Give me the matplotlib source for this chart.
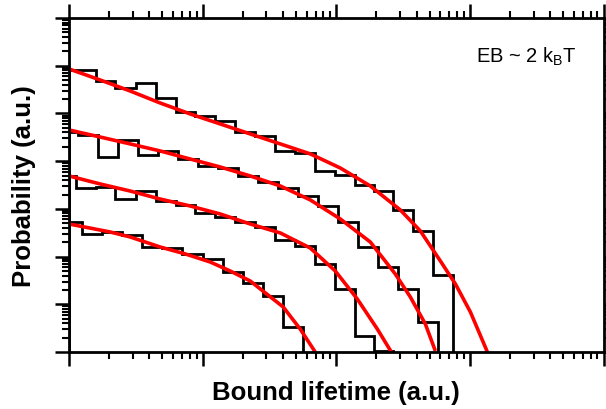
import numpy as np
import matplotlib.pyplot as plt
from matplotlib.ticker import LogLocator, NullFormatter

plt.rcParams['font.family'] = ['Liberation Sans', 'DejaVu Sans']

# binned lifetime distributions (bin edges in a.u., probability per bin)
edges_1 = [1.0, 1.59, 2.21, 3.18, 4.48, 6.33, 8.79, 12.4, 17.5, 24.7, 34.9,
           49.3, 69.6, 98.3, 138.8, 192.6, 267.3, 377.5, 532.9, 752.2]
prob_1 = [0.0817, 0.048, 0.0343, 0.0435, 0.0211, 0.0107, 0.00887, 0.00697,
          0.00409, 0.00337, 0.00164, 0.00149, 6.24e-4, 5.14e-4, 3.17e-4,
          2.37e-4, 9.48e-5, 3.44e-5, 4.11e-6]

edges_2 = [1.0, 1.17, 1.65, 2.33, 3.29, 4.64, 6.55, 9.25, 13.07, 18.45, 26.05,
           36.8, 51.9, 73.3, 103.5, 146.1, 206.4, 291.3, 411.4, 580.7]
prob_2 = [4.09e-3, 3.54e-3, 1.22e-3, 2.78e-3, 1.35e-3, 1.64e-3, 1.11e-3,
          7.92e-4, 7.19e-4, 4.90e-4, 3.66e-4, 2.74e-4, 1.86e-4, 1.15e-4,
          5.31e-5, 1.59e-5, 6.05e-6, 2.09e-6, 4.26e-7]

edges_3 = [1.0, 1.13, 1.59, 2.21, 3.18, 4.48, 6.33, 8.79, 12.4, 17.5, 24.7,
           34.9, 49.3, 69.6, 98.3, 138.8, 192.6, 267.3]
prob_3 = [4.90e-4, 2.74e-4, 2.88e-4, 1.61e-4, 2.37e-4, 1.47e-4, 1.21e-4,
          8.20e-5, 6.76e-5, 5.31e-5, 4.18e-5, 2.23e-5, 1.67e-5, 7.00e-6,
          2.09e-6, 2.16e-7, 1.05e-7]

edges_4 = [1.0, 1.245, 1.77, 2.49, 3.52, 4.97, 7.02, 10.1, 14.24, 20.1, 28.4,
           40.1, 56.6]
prob_4 = [5.31e-5, 2.98e-5, 3.28e-5, 2.84e-5, 1.59e-5, 1.51e-5, 1.14e-5,
          8.91e-6, 4.75e-6, 2.80e-6, 1.49e-6, 3.34e-7]

# fitted curves (red)
fit_x_1 = [1, 1.707, 2.864, 4.80, 8.06, 13.53, 22.7, 38.1, 63.9, 107.2, 179.8,
           301.6, 425.9, 601.2, 778.9, 1008.6, 1352]
fit_y_1 = [0.0857, 0.0504, 0.0296, 0.0166, 0.00977, 0.00603, 0.00372, 0.00230,
           0.00142, 7.19e-4, 3.02e-4, 9.48e-5, 3.44e-5, 8.09e-6, 2.67e-6,
           6.90e-7, 1e-7]

fit_x_2 = [1, 1.707, 2.864, 4.80, 8.06, 13.53, 22.7, 38.1, 63.9, 107.2, 179.8,
           276.7, 358.4, 464.2, 551.5]
fit_y_2 = [4.51e-3, 3.21e-3, 2.30e-3, 1.64e-3, 1.11e-3, 7.55e-4, 4.90e-4,
           3.02e-4, 1.54e-4, 6.14e-5, 2.02e-5, 4.31e-6, 1.42e-6, 3.86e-7, 1.05e-7]

fit_x_3 = [1, 1.707, 2.864, 4.80, 8.06, 13.53, 22.7, 38.1, 63.9, 98.3, 143.7,
           202.9, 258.2]
fit_y_3 = [4.90e-4, 3.33e-4, 2.37e-4, 1.61e-4, 1.15e-4, 7.82e-5, 4.82e-5,
           3.13e-5, 1.51e-5, 4.99e-6, 1.29e-6, 3.03e-7, 1e-7]

fit_x_4 = [1, 2.03, 2.864, 4.80, 7.39, 11.38, 16.07, 22.7, 40.1, 53.7, 69.6]
fit_y_4 = [4.82e-5, 3.28e-5, 2.58e-5, 1.59e-5, 1.14e-5, 7.71e-6, 4.99e-6,
           3.08e-6, 8.77e-7, 3.03e-7, 1e-7]

fig = plt.figure(figsize=(6.06, 4.10), dpi=100)
ax = fig.add_axes([0.1139, 0.139, 0.882, 0.8146])
ax.set_xscale('log')
ax.set_yscale('log')
ax.set_xlim(1, 1e4)
ax.set_ylim(1e-7, 1)

for e, p in [(edges_1, prob_1), (edges_2, prob_2), (edges_3, prob_3), (edges_4, prob_4)]:
    ax.stairs(p, e, baseline=1e-7, color='black', lw=2.0)

for fx, fy in [(fit_x_1, fit_y_1), (fit_x_2, fit_y_2), (fit_x_3, fit_y_3), (fit_x_4, fit_y_4)]:
    ax.plot(fx, fy, color='#ff0000', lw=2.6, solid_capstyle='butt')

for axis in [ax.xaxis, ax.yaxis]:
    axis.set_major_locator(LogLocator(base=10, numticks=20))
    axis.set_minor_locator(LogLocator(base=10, subs=np.arange(2, 10), numticks=100))
    axis.set_major_formatter(NullFormatter())
    axis.set_minor_formatter(NullFormatter())

ax.tick_params(which='both', direction='out', top=True, right=True)
ax.tick_params(which='major', length=10, width=1.8)
ax.tick_params(which='minor', length=5, width=1.5)
for s in ax.spines.values():
    s.set_linewidth(2.0)

ax.set_xlabel('Bound lifetime (a.u.)', fontsize=18.5, fontweight='bold', labelpad=7)
ax.set_ylabel('Probability (a.u.)', fontsize=18.5, fontweight='bold', labelpad=10)

ax.text(0.762, 0.87, r'EB ~ 2 k$_\mathregular{B}$T', transform=ax.transAxes,
        fontsize=14.5, ha='left', va='baseline')

fig.savefig('out.png', dpi=100)
